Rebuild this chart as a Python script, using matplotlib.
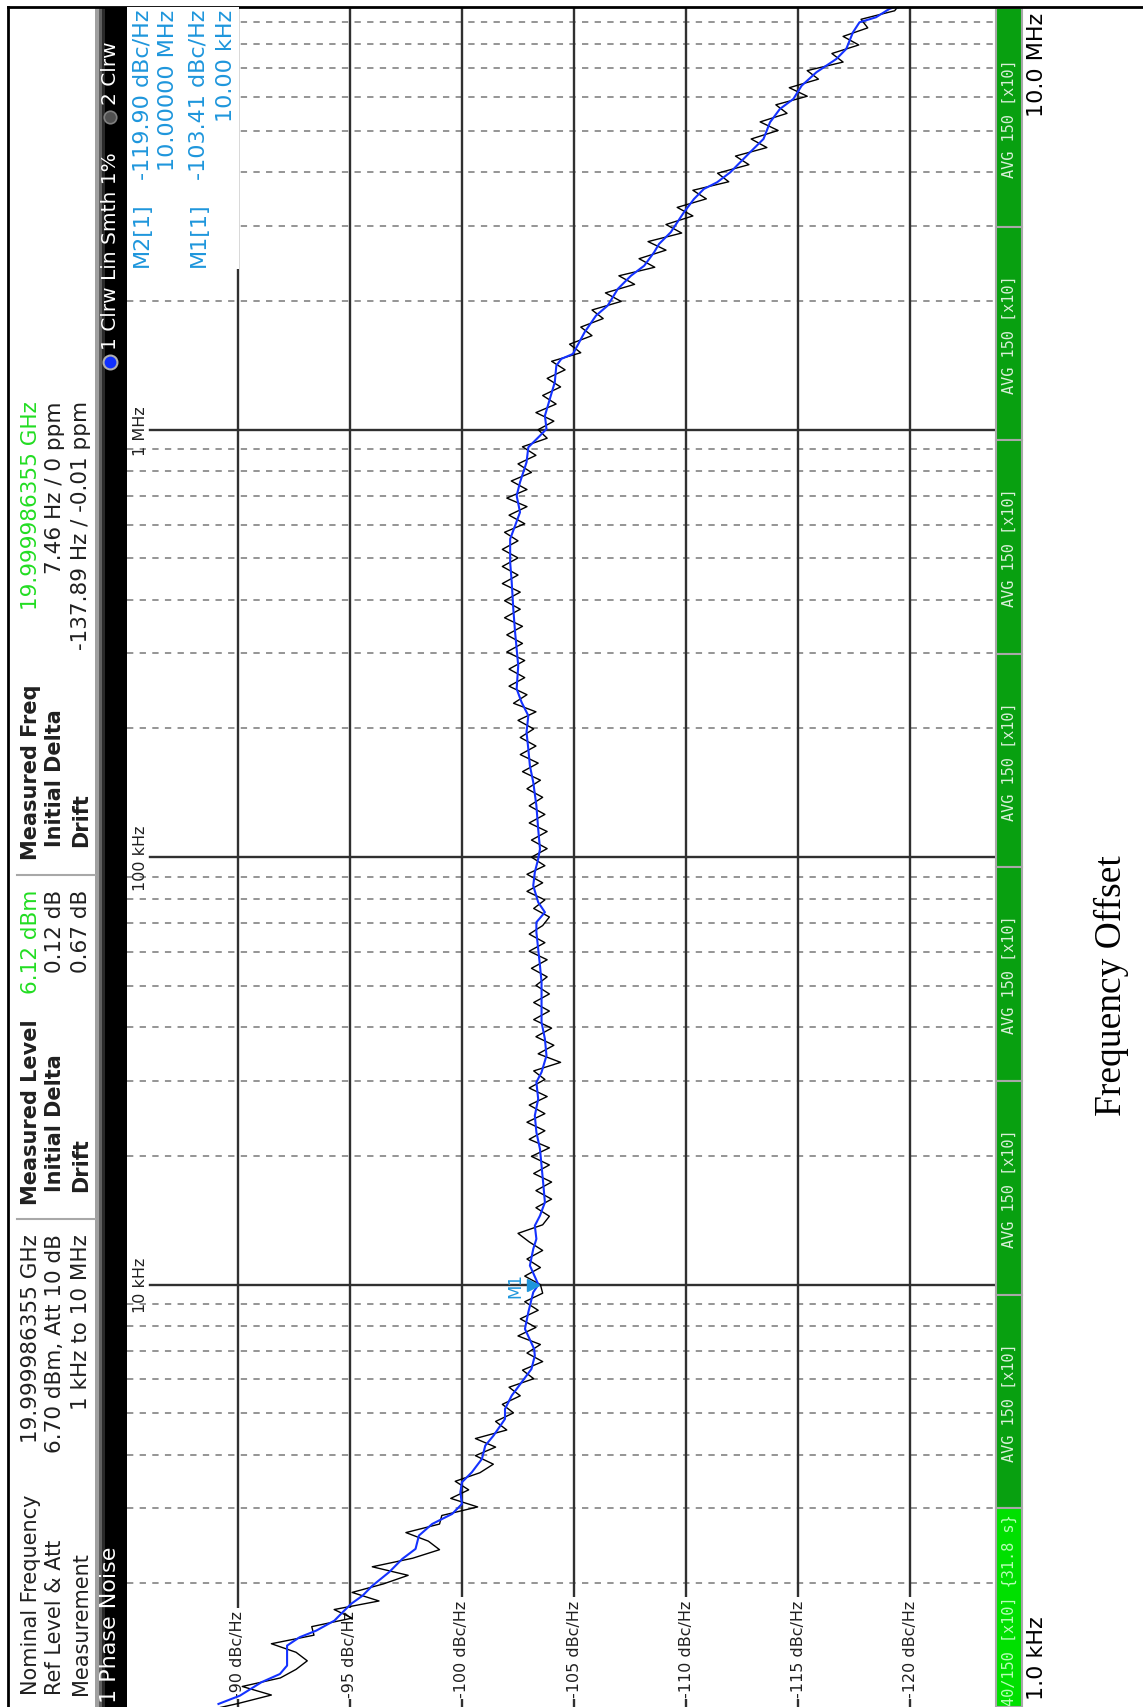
import numpy as np
import matplotlib
matplotlib.use("Agg")
from matplotlib import pyplot as plt
from matplotlib.patches import Rectangle
from matplotlib.lines import Line2D
from matplotlib.transforms import blended_transform_factory, offset_copy

W = 1143
H = 1708
my_dpi = 100

# smoothed trace (blue), offset frequency in Hz / phase noise in dBc/Hz
smooth_freq = [1045, 1093, 1175, 1228, 1285, 1431, 1497, 1551, 1637, 1713,
               1791, 1873, 1977, 2125, 2283, 2409, 2588, 2755, 2908, 3069,
               3268, 3450, 3640, 3911, 4202, 4436, 4851, 5119, 5502, 5910,
               6350, 6822, 7073, 7878, 8618, 9598, 10000, 11080, 12120, 12790,
               13740, 14500, 15580, 17360, 18980, 20770, 22730, 24850, 27190, 29750,
               31400, 34330, 37560, 41110, 46600, 50960, 55740, 60990, 66730, 70420,
               74320, 78440, 85760, 92200, 99040, 104500, 116400, 132000, 149700, 163700,
               179100, 196000, 214300, 230300, 247500, 280500, 306900, 335800, 380700, 439500,
               489700, 555000, 596300, 640900, 700900, 753300, 838900, 909600, 968200, 1004000,
               1078000, 1180000, 1291000, 1412000, 1464000, 1504000, 1690000, 1849000, 1951000, 2134000,
               2292000, 2419000, 2600000, 2719000, 2895000, 3225000, 3465000, 3657000, 3791000, 4001000,
               4222000, 4456000, 4787000, 5236000, 5626000, 5937000, 6377000, 6857000, 7366000, 7774000,
               8502000, 8974000, 9221000, 9643000, 10000000]
smooth_dbc = [-89.14, -90.10, -91.06, -91.88, -92.20, -92.20, -92.76, -93.50, -94.31, -94.68,
              -95.05, -95.57, -96.01, -96.75, -97.34, -97.93, -98.08, -98.67, -99.56, -100.00,
              -99.93, -100.00, -100.44, -100.89, -101.04, -101.41, -101.92, -101.92, -102.22, -102.66,
              -103.10, -103.25, -103.22, -102.81, -102.96, -103.18, -103.41, -103.03, -103.18, -103.32,
              -103.25, -103.48, -103.70, -103.62, -103.55, -103.48, -103.32, -103.25, -103.40, -103.32,
              -103.55, -103.77, -103.70, -103.55, -103.55, -103.55, -103.48, -103.40, -103.32, -103.32,
              -103.70, -103.40, -103.18, -103.25, -103.40, -103.48, -103.40, -103.32, -103.18, -103.03,
              -102.96, -102.88, -102.96, -102.66, -102.44, -102.51, -102.44, -102.37, -102.29, -102.22,
              -102.15, -102.15, -102.37, -102.59, -102.44, -102.59, -102.88, -102.96, -103.48, -103.77,
              -103.70, -103.92, -104.14, -104.21, -104.43, -104.95, -105.47, -105.98, -106.50, -106.95,
              -107.54, -108.13, -108.57, -108.79, -109.31, -109.90, -110.35, -110.79, -111.38, -111.97,
              -112.41, -112.85, -113.45, -113.74, -114.18, -114.78, -115.15, -115.81, -116.70, -117.14,
              -117.44, -117.73, -118.47, -119.06, -119.90]

# raw trace (black), one value per sweep point, 1 kHz .. 10 MHz log sweep
raw_dbc = [-88.3, -90.0, -91.5, -90.2, -91.9, -92.6, -93.1, -92.6, -91.5, -93.4,
           -93.3, -95.1, -94.3, -96.3, -95.1, -96.5, -97.6, -96.0, -97.8, -99.0,
           -98.5, -97.5, -99.0, -99.1, -100.7, -99.5, -100.3, -99.7, -100.8, -101.4,
           -100.6, -101.5, -100.6, -102.0, -101.5, -102.3, -101.8, -102.6, -102.1, -103.2,
           -102.7, -103.6, -102.9, -103.5, -102.5, -103.3, -102.6, -103.4, -102.8, -103.6,
           -103.5, -102.8, -103.5, -102.9, -103.6, -103.0, -102.5, -103.6, -103.9, -103.3,
           -104.0, -103.3, -104.0, -103.2, -103.9, -103.1, -103.9, -103.0, -103.7, -102.9,
           -103.7, -103.0, -103.8, -103.0, -103.7, -103.2, -104.4, -103.4, -104.1, -103.3,
           -104.0, -103.2, -103.9, -103.2, -103.9, -103.3, -103.8, -103.1, -103.8, -103.0,
           -103.7, -103.0, -103.6, -103.9, -103.2, -103.7, -102.9, -103.6, -102.9, -103.7,
           -103.1, -103.8, -103.1, -103.8, -103.0, -103.7, -103.0, -103.6, -102.9, -103.5,
           -102.7, -103.4, -102.6, -103.3, -102.6, -103.2, -102.5, -103.3, -102.3, -102.9,
           -102.1, -102.8, -102.1, -102.8, -102.0, -102.7, -102.0, -102.7, -101.9, -102.6,
           -101.9, -102.6, -101.8, -102.5, -101.8, -102.5, -101.8, -102.5, -101.9, -102.8,
           -102.1, -102.9, -102.0, -102.9, -102.2, -103.1, -102.5, -103.3, -102.7, -103.8,
           -103.4, -104.1, -103.3, -104.2, -103.6, -104.4, -103.8, -104.6, -104.0, -105.3,
           -104.8, -105.8, -105.3, -106.3, -105.8, -107.1, -106.4, -107.7, -107.0, -108.6,
           -107.9, -109.1, -108.3, -109.8, -109.1, -110.3, -109.6, -110.9, -110.3, -111.9,
           -111.4, -112.8, -112.2, -113.6, -112.9, -114.1, -113.3, -114.5, -114.0, -115.4,
           -114.6, -115.9, -115.4, -117.0, -116.5, -117.7, -117.0, -118.1, -117.8, -119.3,
           -119.6]
raw_freq = np.logspace(3, 7, len(raw_dbc))

level_lines = [-90, -95, -100, -105, -110, -115, -120]
decade_lines = [1e4, 1e5, 1e6]
decade_labels = ["10 kHz", "100 kHz", "1 MHz"]

markers = [("M1", 10e3, -103.41), ("M2", 10e6, -119.90)]

header_rows = [
    ("Nominal Frequency", "19.999986355 GHz"),
    ("Ref Level & Att", "6.70 dBm, Att 10 dB"),
    ("Measurement", "1 kHz to 10 MHz"),
]
level_rows = [("Measured Level", "6.12 dBm"), ("Initial Delta", "0.12 dB"), ("Drift", "0.67 dB")]
freq_rows = [("Measured Freq", "19.999986355 GHz"), ("Initial Delta", "7.46 Hz / 0 ppm"),
             ("Drift", "-137.89 Hz / -0.01 ppm")]

status_edges = [9, 228, 441, 655, 868, 1082, 1296, 1509, 1708]

cyan = '#1e96dc'
green = '#22dd22'
font = 'DejaVu Sans'


def fx(x):
    return x / W


def fy(y):
    return 1 - y / H


def vtext(x, y, s, ha='left', size=15, color='#202020', **kw):
    # all texts of the screenshot run bottom -> top
    fig.text(fx(x), fy(y), s, rotation=90, rotation_mode='anchor', ha=ha, va='center',
             fontsize=size, color=color, family=font, **kw)


fig = plt.figure(figsize=(W / my_dpi, H / my_dpi), dpi=my_dpi, facecolor='w')

# ------- plot area (rotated: level runs left->right, offset frequency bottom->top)
ax = fig.add_axes([fx(127), 0, fx(996) - fx(127), fy(8)])
ax.set_yscale('log')
ax.set_xlim(-85.06, -123.82)
ax.set_ylim(1028, 9.745e6)
ax.set_axis_off()

minor = [m * 10.0 ** d for d in range(3, 7) for m in range(2, 10)]
for f in minor:
    ax.axhline(f, color='#8c8c8c', lw=1.3, ls=(0, (3.5, 3.5)), zorder=1)
for f in decade_lines:
    ax.axhline(f, xmin=0.0265, color='#303030', lw=1.7, zorder=2)
for lv in level_lines:
    ax.axvline(lv, color='#303030', lw=1.7, zorder=2)

lab_tr = blended_transform_factory(ax.transData, ax.transAxes)
for lv in level_lines:
    ax.text(lv, 0.006, "%d dBc/Hz" % lv, transform=lab_tr, rotation=90, rotation_mode='anchor',
            ha='left', va='center', fontsize=11.5, family=font, color='#202020', zorder=3,
            bbox=dict(facecolor='white', edgecolor='none', pad=1.5))
freq_tr = blended_transform_factory(ax.transAxes, ax.transData)
for f, s in zip(decade_lines, decade_labels):
    ax.text(0.015, f, s, transform=freq_tr, rotation=90, rotation_mode='anchor',
            ha='center', va='center', fontsize=11.5, family=font, color='#202020', zorder=3)

ax.plot(raw_dbc, raw_freq, color='black', lw=1.0, zorder=4)
ax.plot(smooth_dbc, smooth_freq, color='#1432ff', lw=1.5, zorder=5)

for name, f, lv in markers:
    tri = offset_copy(ax.transData, fig=fig, x=-5, y=0, units='dots')
    ax.plot([lv], [f], marker='>', ms=8, color=cyan, transform=tri, zorder=6)
    if name == "M1":
        lt = offset_copy(ax.transData, fig=fig, x=-23, y=0, units='dots')
        ax.text(lv, f, name, transform=lt, rotation=90, rotation_mode='anchor', ha='center',
                va='center', fontsize=12, color=cyan, family=font, zorder=6)

# marker readout box (hides the grid behind it)
fig.add_artist(Rectangle((fx(127), fy(270)), fx(239) - fx(127), fy(8) - fy(270),
                         transform=fig.transFigure, facecolor='white', edgecolor='none', zorder=3))
vtext(142, 267, "M2[1]", size=16, color=cyan, zorder=4)
vtext(142, 10, "-119.90 dBc/Hz", ha='right', size=16, color=cyan, zorder=4)
vtext(168, 10, "10.00000 MHz", ha='right', size=16, color=cyan, zorder=4)
vtext(199, 267, "M1[1]", size=16, color=cyan, zorder=4)
vtext(199, 10, "-103.41 dBc/Hz", ha='right', size=16, color=cyan, zorder=4)
vtext(226, 10, "10.00 kHz", ha='right', size=16, color=cyan, zorder=4)

# ------- header
cols = [31, 55, 81]
for i, (lab, val) in enumerate(header_rows):
    vtext(cols[i], 1695, lab)
    vtext(cols[i], 1234, val, ha='right', size=15.5)
for i, (lab, val) in enumerate(level_rows):
    vtext(cols[i], 1205 if i == 0 else 1192, lab, weight='bold')
    vtext(cols[i], 890, val, ha='right', size=15.5, color=green if i == 0 else '#202020')
for i, (lab, val) in enumerate(freq_rows):
    vtext(cols[i], 860 if i == 0 else 847, lab, weight='bold')
    vtext(cols[i], 401, val, ha='right', size=15.5, color=green if i == 0 else '#202020')
for y in [1220, 876]:
    fig.add_artist(Line2D([fx(17), fx(95)], [fy(y), fy(y)], color='#a8a8a8', lw=1.5,
                          transform=fig.transFigure))

# ------- black title bar
for x0, x1, c in [(95, 99, '#a0a0a0'), (99, 102, '#606060'), (102, 105, '#2a2a2a'), (105, 127, 'black')]:
    fig.add_artist(Rectangle((fx(x0), 0), fx(x1) - fx(x0), fy(8), transform=fig.transFigure,
                             facecolor=c, edgecolor='none'))
vtext(110, 1703, "1 Phase Noise", size=16, color='white')
fig.add_artist(Line2D([fx(110)], [fy(363)], marker='o', ms=10, mfc='#1030ff', mec='#b0b0b0',
                      mew=1.5, transform=fig.transFigure))
vtext(111, 350, "1 Clrw Lin Smth 1%", size=14.5, color='white')
fig.add_artist(Line2D([fx(110)], [fy(118)], marker='o', ms=9, mfc='#505050', mec='#808080',
                      mew=1.2, transform=fig.transFigure))
vtext(111, 105, "2 Clrw", size=14.5, color='white')

# ------- status bar
for i in range(len(status_edges) - 1):
    y0, y1 = status_edges[i], status_edges[i + 1]
    last = i == len(status_edges) - 2
    fig.add_artist(Rectangle((fx(996), fy(y1)), fx(1022) - fx(996), fy(y0) - fy(y1),
                             transform=fig.transFigure, facecolor='#00e000' if last else '#08a010',
                             edgecolor='#a8a8a8', lw=1.5))
    if last:
        fig.text(fx(1009), fy(1706), "40/150 [x10] {31.8 s}", rotation=90, rotation_mode='anchor',
                 ha='left', va='center', fontsize=11, family='DejaVu Sans Mono', color='#b8ffb8')
    else:
        fig.text(fx(1009), fy((y0 + y1) / 2), "AVG 150 [x10]", rotation=90, rotation_mode='anchor',
                 ha='center', va='center', fontsize=11, family='DejaVu Sans Mono', color='#d8f0d8')

vtext(1037, 13, "10.0 MHz", ha='right', size=16, color='black')
vtext(1037, 1700, "1.0 kHz", size=16, color='black')

fig.text(fx(1111), fy(986), "Frequency Offset", rotation=90, ha='center', va='center',
         fontsize=27, family='Liberation Serif', color='black')

# outer frame
fig.add_artist(Line2D([fx(8), fx(8)], [0, fy(8)], color='black', lw=2, transform=fig.transFigure))
fig.add_artist(Line2D([fx(8), 1], [fy(8), fy(8)], color='black', lw=2, transform=fig.transFigure))

plt.savefig("out.png", dpi=my_dpi, facecolor='w')
